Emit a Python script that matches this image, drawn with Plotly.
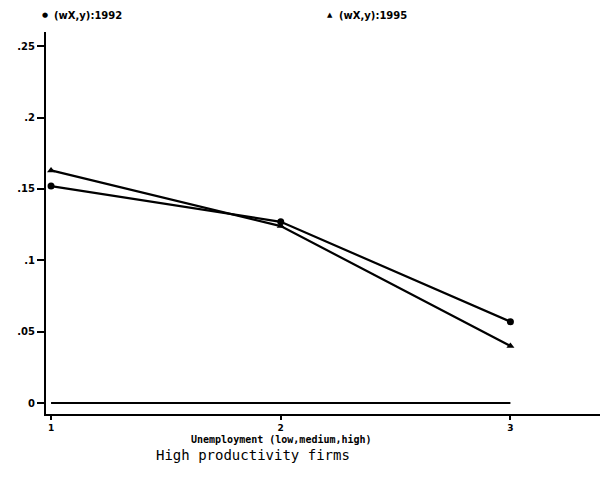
import plotly.graph_objects as go

# Unemployment level (1 = low, 2 = medium, 3 = high)
unemp = [1, 2, 3]
w_1992 = [0.152, 0.127, 0.057]
w_1995 = [0.163, 0.124, 0.040]
zero_ref = [0, 0, 0]

y_ticks = [0, 0.05, 0.1, 0.15, 0.2, 0.25]
y_tick_text = ["0", ".05", ".1", ".15", ".2", ".25"]
x_ticks = [1, 2, 3]

series_names = ["(wX,y):1992", "(wX,y):1995"]
series_glyphs = ["\u25CF", "\u25B2"]

ink = "black"
bold_small = dict(family="DejaVu Sans", size=10, color=ink, weight="bold")

# plot area in pixels (used to place the key and captions)
L, R, T, B = 46, 3, 32, 66
W, H = 603, 480
pw, ph = W - L - R, H - T - B


def px_x(x):
    return (x - L) / pw


def px_y(y):
    return (H - B - y) / ph


fig = go.Figure()

fig.add_trace(go.Scatter(
    x=unemp, y=zero_ref, mode="lines",
    line=dict(color=ink, width=2.2), showlegend=False, hoverinfo="skip"))
fig.add_trace(go.Scatter(
    x=unemp, y=w_1992, mode="lines+markers", name=series_names[0],
    line=dict(color=ink, width=2.2),
    marker=dict(symbol="circle", size=7, color=ink), showlegend=False))
fig.add_trace(go.Scatter(
    x=unemp, y=w_1995, mode="lines+markers", name=series_names[1],
    line=dict(color=ink, width=2.2),
    marker=dict(symbol="triangle-up", size=7, color=ink), showlegend=False))

fig.update_layout(
    width=W, height=H,
    margin=dict(l=L, r=R, t=T, b=B, autoexpand=False),
    paper_bgcolor="white", plot_bgcolor="white",
    showlegend=False,
    xaxis=dict(
        range=[0.978, 3.39], tickvals=x_ticks, ticktext=[str(v) for v in x_ticks],
        showgrid=False, zeroline=False,
        showline=True, linecolor=ink, linewidth=2,
        ticks="outside", ticklen=4, tickwidth=2, tickcolor=ink,
        tickfont=dict(family="DejaVu Sans", size=9, color=ink, weight="bold"),
    ),
    yaxis=dict(
        range=[-0.0077, 0.26], tickvals=y_ticks, ticktext=y_tick_text,
        showgrid=False, zeroline=False,
        showline=True, linecolor=ink, linewidth=2,
        ticks="outside", ticklen=7, tickwidth=2, tickcolor=ink,
        tickfont=bold_small,
    ),
)

# key along the top edge
key_x = [45, 330]
for name, glyph, kx in zip(series_names, series_glyphs, key_x):
    fig.add_annotation(
        text=glyph, xref="paper", yref="paper", x=px_x(kx), y=px_y(15),
        xanchor="center", yanchor="middle", showarrow=False,
        font=dict(family="DejaVu Sans", size=7, color=ink))
    fig.add_annotation(
        text=name, xref="paper", yref="paper", x=px_x(kx + 7), y=px_y(15),
        xanchor="left", yanchor="middle", showarrow=False,
        font=dict(family="DejaVu Sans", size=10, color=ink, weight="bold"))

fig.add_annotation(
    text="Unemployment (low,medium,high)", xref="paper", yref="paper",
    x=px_x(281), y=px_y(439), xanchor="center", yanchor="middle",
    showarrow=False,
    font=dict(family="DejaVu Sans Mono", size=10, color=ink, weight="bold"))
fig.add_annotation(
    text="High productivity firms", xref="paper", yref="paper",
    x=px_x(253), y=px_y(455), xanchor="center", yanchor="middle",
    showarrow=False,
    font=dict(family="DejaVu Sans Mono", size=14, color=ink))

fig.write_html("out.html")
